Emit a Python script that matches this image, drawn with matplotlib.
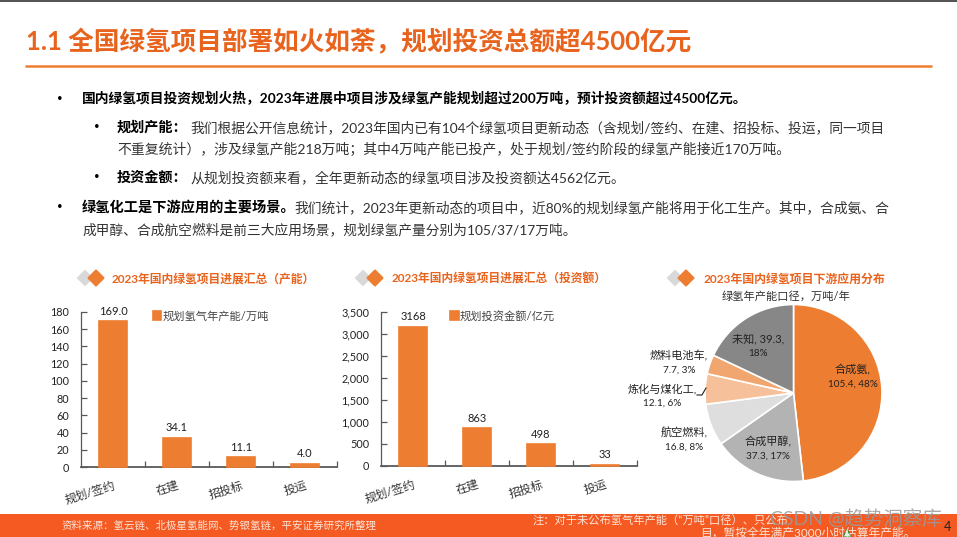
import matplotlib
matplotlib.use("Agg")
import matplotlib.pyplot as plt
from matplotlib.patches import Polygon, Rectangle

plt.rcParams['font.family'] = ['Lato', 'Noto Sans CJK SC', 'DejaVu Sans']

W = 957
H = 537

ORANGE = '#ED7D31'
TITLE_ORANGE = '#E8641E'
BAND = '#F55A22'
AXIS = '#595959'

stages = ['规划/签约', '在建', '招投标', '投运']
capacity = [169.0, 34.1, 11.1, 4.0]
capacity_ticks = [0, 20, 40, 60, 80, 100, 120, 140, 160, 180]
invest = [3168, 863, 498, 33]
invest_ticks = [0, 500, 1000, 1500, 2000, 2500, 3000, 3500]

uses = ['合成氨', '合成甲醇', '航空燃料', '炼化与煤化工', '燃料电池车', '未知']
use_values = [105.4, 37.3, 16.8, 12.1, 7.7, 39.3]
use_pct = [48, 17, 8, 6, 3, 18]
use_colors = ['#ED7D31', '#B3B3B3', '#DEDEDE', '#F6C19A', '#F1A670', '#878787']

fig = plt.figure(figsize=(W / 100, H / 100), dpi=100, facecolor='white')
renderer = fig.canvas.get_renderer()


def axes_px(x0, y0, x1, y1):
    # pixel box of the reference -> figure fractions
    return fig.add_axes([x0 / W, 1 - y1 / H, (x1 - x0) / W, (y1 - y0) / H])


page = fig.add_axes([0, 0, 1, 1], zorder=5)
page.set_xlim(0, W)
page.set_ylim(H, 0)
page.axis('off')
page.patch.set_alpha(0)


def put(x0, x1, y, s, size=9.5, **kw):
    # text squeezed to the width it has in the reference
    t = page.text(x0, y, s, fontsize=size, va='center', ha='left', **kw)
    width = t.get_window_extent(renderer).width
    t.set_fontsize(size * (x1 - x0) / width)
    return t


def bars(box, values, ticks, fmt, legend, legend_x, tick_fmt):
    ax = axes_px(*box)
    # the edge keeps the smallest bars visible above the axis line
    ax.bar(range(4), values, width=0.43, color=ORANGE, edgecolor=ORANGE, linewidth=1.2,
           label=legend, zorder=3, clip_on=False)
    ax.set_xlim(-0.5, 3.5)
    ax.set_ylim(ticks[0], ticks[-1])
    ax.set_yticks(ticks)
    ax.set_yticklabels([tick_fmt.format(v) for v in ticks], fontsize=7.8, color='#222222')
    ax.set_xticks([0.5, 1.5, 2.5, 3.5])
    ax.set_xticklabels([])
    ax.set_xticks(range(4), minor=True)
    ax.set_xticklabels(stages, minor=True, rotation=17, ha='right', rotation_mode='anchor',
                       fontsize=8.5, color='#333333')
    ax.tick_params(axis='x', which='minor', length=0, pad=9)
    ax.tick_params(axis='x', which='major', direction='in', length=4, width=0.9, color=AXIS)
    ax.tick_params(axis='y', which='major', direction='in', length=4, width=0.9, color=AXIS, pad=8.5)
    for side in ['top', 'right']:
        ax.spines[side].set_visible(False)
    ax.spines['left'].set_color(AXIS)
    ax.spines['left'].set_linewidth(0.9)
    ax.spines['bottom'].set_color(AXIS)
    ax.spines['bottom'].set_linewidth(1.3)
    ax.spines['bottom'].set_zorder(2)
    ax.bar_label(ax.containers[0], fmt=fmt, fontsize=8, padding=3, color='#222222')
    ax.legend(loc='upper left', bbox_to_anchor=(legend_x, 1.01), frameon=False, fontsize=8.1,
              handlelength=0.75, handleheight=0.75, handletextpad=0.1, borderpad=0,
              borderaxespad=0, labelcolor='#444444')
    return ax


bars((81, 312, 337, 467), capacity, capacity_ticks, '%.1f', '规划氢气年产能/万吨', 0.28, '{:d}')
bars((381, 312, 637, 466), invest, invest_ticks, '%d', '规划投资金额/亿元', 0.27, '{:,d}')

pie_ax = axes_px(705, 304.5, 882, 481.5)
pie_ax.pie(use_values, colors=use_colors, startangle=90, counterclock=False,
           wedgeprops={'edgecolor': 'white', 'linewidth': 1.2})
pie_ax.set_xlim(-1, 1)
pie_ax.set_ylim(-1, 1)
for patch in pie_ax.patches:
    patch.set_clip_on(False)

# page frame
page.plot([0, W], [0.5, 0.5], color='#333333', lw=1.2)
put(26, 692, 41, '1.1 全国绿氢项目部署如火如荼，规划投资总额超4500亿元', size=18,
    color=TITLE_ORANGE, fontweight='bold')
page.plot([25, 932], [66, 66], color=ORANGE, lw=1.8, solid_capstyle='butt')

# body text
for bx, by in [(60, 98), (97, 127), (97, 177), (60, 207)]:
    page.text(bx, by, '•', fontsize=7, ha='center', va='center', color='black')

BODY = '#333333'
put(82, 750, 98, '国内绿氢项目投资规划火热，2023年进展中项目涉及绿氢产能规划超过200万吨，预计投资额超过4500亿元。',
    color='black', fontweight='bold')
put(117, 188, 127, '规划产能：', color='black', fontweight='bold')
put(190, 887, 127, '我们根据公开信息统计，2023年国内已有104个绿氢项目更新动态（含规划/签约、在建、招投标、投运，同一项目', color=BODY)
put(117, 792, 149, '不重复统计），涉及绿氢产能218万吨；其中4万吨产能已投产，处于规划/签约阶段的绿氢产能接近170万吨。', color=BODY)
put(117, 188, 177, '投资金额：', color='black', fontweight='bold')
put(190, 625, 177, '从规划投资额来看，全年更新动态的绿氢项目涉及投资额达4562亿元。', color=BODY)
put(82, 296, 207, '绿氢化工是下游应用的主要场景。', color='black', fontweight='bold')
put(294, 892, 207, '我们统计，2023年更新动态的项目中，近80%的规划绿氢产能将用于化工生产。其中，合成氨、合', color=BODY)
put(82, 577, 229, '成甲醇、合成航空燃料是前三大应用场景，规划绿氢产量分别为105/37/17万吨。', color=BODY)

# chart headings with the two diamonds
for gray_x, orange_x, x0, x1, s in [
    (85, 96, 112, 315, '2023年国内绿氢项目进展汇总（产能）'),
    (363, 375, 392, 606, '2023年国内绿氢项目进展汇总（投资额）'),
    (675, 686, 703, 885, '2023年国内绿氢项目下游应用分布'),
]:
    page.add_patch(Polygon([(gray_x - 7, 278), (gray_x, 271), (gray_x + 7, 278), (gray_x, 285)],
                           facecolor='#D9D9D9', edgecolor='#D9D9D9', lw=1.5, joinstyle='round'))
    page.add_patch(Polygon([(orange_x - 7.5, 278), (orange_x, 270.5), (orange_x + 7.5, 278), (orange_x, 285.5)],
                           facecolor=ORANGE, edgecolor=ORANGE, lw=1.5, joinstyle='round'))
    put(x0, x1, 279, s, size=8.5, color=TITLE_ORANGE, fontweight='bold')

put(722, 850, 296, '绿氢年产能口径，万吨/年', size=8.5, color='#333333')

# pie labels, names and numbers at their own sizes since the digits run narrow in the reference
label_pos = [(853, 377), (768, 449), (684, 440), (662, 396), (679, 363), (758, 346)]
for i, name in enumerate(uses):
    lx, ly = label_pos[i]
    if name == '未知':
        top = f'{name}, {use_values[i]},'
        low = f'{use_pct[i]}%'
    else:
        top = f'{name},'
        low = f'{use_values[i]}, {use_pct[i]}%'
    page.text(lx, ly - 7, top, fontsize=8, ha='center', va='center', color='#222222')
    page.text(lx, ly + 7, low, fontsize=7.2, ha='center', va='center', color='#222222')
page.plot([697, 702, 706], [395, 395, 388], color='#222222', lw=0.8)

# footer band
page.add_patch(Rectangle((0, 514), W, 23, color=BAND, lw=0))
put(62, 377, 526, '资料来源：氢云链、北极星氢能网、势银氢链，平安证券研究所整理', size=7, color='#FBE3D6')
put(533, 790, 521, '注：对于未公布氢气年产能（“万吨”口径）、只公布', size=7, color='#FBE3D6')
put(700, 916, 533, '目，暂按全年满产3000小时估算年产能。', size=7, color='#FBE3D6')
page.add_patch(Polygon([(843, 537), (847, 529), (851, 537)], facecolor='#E8F5E9', edgecolor='#2E7D32', lw=0.8))
page.text(947, 527, '4', fontsize=9, ha='center', va='center', color='#222222')
put(770, 942, 518, 'CSDN @趋势洞察库', size=12, color='#9A9A9A', alpha=0.85)

fig.savefig('out.png', dpi=100)
